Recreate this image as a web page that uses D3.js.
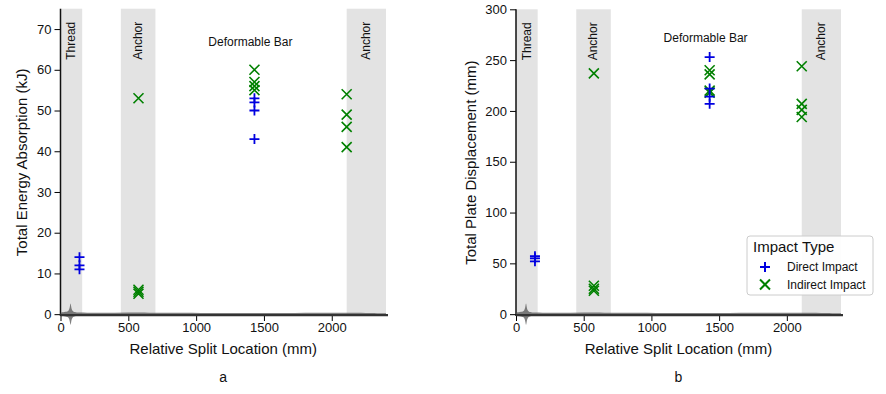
<!DOCTYPE html>
<html><head><meta charset="utf-8">
<script src="https://cdn.jsdelivr.net/npm/d3@7"></script>
<style>
body{margin:0;background:#fff;}
svg{display:block;font-family:"Liberation Sans",Arial,sans-serif;}
</style></head>
<body><svg id="c" width="886" height="394"></svg>
<script>
// ---- data ----
const regions = [
  {name:"Thread", x0:0, x1:160, label:80},
  {name:"Anchor", x0:445, x1:700, label:572},
  {name:"Anchor", x0:2110, x1:2400, label:2250}
];
const directX = [140,140,140,1430,1430,1430,1430];
const indirectX = [575,575,575,575,1430,1430,1430,1430,2110,2110,2110,2110];
const energyDirect = [14,12,11,43,50,52,53];
const energyIndirect = [53,6,5.5,5,60,57,56,55,54,49,46,41];
const dispDirect = [57,55,52,253,222,214,207];
const dispIndirect = [237,28,25,23,240,236,220,218,244,207,201,194];
const energyTicks = [0,10,20,30,40,50,60,70];
const dispTicks = [0,50,100,150,200,250,300];
const xTicks = [0,500,1000,1500,2000];
// smear artifact along the zero line: [mm, half-thickness px]
const smear = [[0,1.5],[40,2.5],[62,3],[70,8],[74,12],[78,8],[86,2.5],[120,1.6],[300,1.3],[500,2],[700,1.4],[1500,1.1],[2200,1.8],[2400,0.8]];

const svg = d3.select("#c");
const blue = "#0000e0", green = "#008000";

function panel(cfg){
  const g = svg.append("g");
  const x = d3.scaleLinear().domain([0,2400]).range([cfg.left, cfg.right]);
  const y = d3.scaleLinear().domain(cfg.ydom).range([cfg.bottom, cfg.top]);
  // bands
  g.selectAll("rect.band").data(regions).join("rect")
    .attr("x", d=>x(d.x0)).attr("width", d=>x(d.x1)-x(d.x0))
    .attr("y", cfg.top).attr("height", cfg.bottom-cfg.top).attr("fill","#e3e3e3");
  g.selectAll("text.band").data(regions).join("text")
    .attr("transform", d=>`translate(${x(d.label)+4},${cfg.top+13}) rotate(-90)`)
    .attr("text-anchor","end").attr("font-size",12).attr("fill","#111").text(d=>d.name);
  g.append("text").attr("x", x(1400)).attr("y", cfg.top+cfg.dbOff).attr("text-anchor","middle")
    .attr("font-size",12).attr("fill","#111").text("Deformable Bar");
  // axes
  const ya = d3.axisLeft(y).tickValues(cfg.yticks).tickSize(6).tickPadding(3).tickFormat(d3.format("d"));
  const yg = g.append("g").attr("transform",`translate(${cfg.left},0)`).call(ya);
  yg.select(".domain").remove();
  yg.selectAll("text").attr("font-size",13).attr("fill","#111");
  g.append("line").attr("x1",cfg.left).attr("x2",cfg.left).attr("y1",cfg.top).attr("y2",cfg.bottom)
    .attr("stroke","#111").attr("stroke-width",1.5);
  const xa = d3.axisBottom(x).tickValues(xTicks).tickSize(5).tickPadding(2).tickFormat(d3.format("d"));
  const xg = g.append("g").attr("transform",`translate(0,${cfg.bottom})`).call(xa);
  xg.select(".domain").remove();
  xg.selectAll("text").attr("font-size",13).attr("fill","#111");
  // smear artifact
  const area = d3.area().x(d=>x(d[0])).y0(d=>y(0)+d[1]).y1(d=>y(0)-d[1]).curve(d3.curveBasis);
  g.append("path").datum(smear).attr("d",area).attr("fill","#555").attr("opacity",0.75);
  g.append("line").attr("x1",cfg.left).attr("x2",cfg.right+2).attr("y1",y(0)+1).attr("y2",y(0)+1)
    .attr("stroke","#333").attr("stroke-width",2.2);
  // labels
  g.append("text").attr("x",(cfg.left+cfg.right)/2).attr("y",354).attr("text-anchor","middle")
    .attr("font-size",15).attr("fill","#111").text("Relative Split Location (mm)");
  g.append("text").attr("x",(cfg.left+cfg.right)/2).attr("y",382).attr("text-anchor","middle")
    .attr("font-size",14).attr("fill","#111").text(cfg.sub);
  g.append("text").attr("transform",`translate(${cfg.ylabX},${(cfg.top+cfg.bottom)/2}) rotate(-90)`)
    .attr("text-anchor","middle").attr("font-size",15).attr("fill","#111").text(cfg.ylabel);
  // markers
  const s = 5;
  const plus = `M${-s},0H${s}M0,${-s}V${s}`;
  const cross = `M${-s},${-s}L${s},${s}M${-s},${s}L${s},${-s}`;
  g.selectAll("path.ind").data(cfg.ind).join("path")
    .attr("transform",(d,i)=>`translate(${x(indirectX[i])},${y(d)})`)
    .attr("d",cross).attr("stroke",green).attr("stroke-width",1.6).attr("fill","none");
  g.selectAll("path.dir").data(cfg.dir).join("path")
    .attr("transform",(d,i)=>`translate(${x(directX[i])},${y(d)})`)
    .attr("d",plus).attr("stroke",blue).attr("stroke-width",1.8).attr("fill","none");
  return {g,x,y,plus,cross};
}

panel({left:60.5,right:386,top:8.7,bottom:316,ydom:[-0.45,75],yticks:energyTicks,
  dir:energyDirect,ind:energyIndirect,sub:"a",ylabX:27,ylabel:"Total Energy Absorption (kJ)",dbOff:37});
const p2 = panel({left:516,right:841,top:9.3,bottom:316,ydom:[-1.8,300],yticks:dispTicks,
  dir:dispDirect,ind:dispIndirect,sub:"b",ylabX:476,ylabel:"Total Plate Displacement (mm)",dbOff:33});

// legend
const lg = svg.append("g").attr("transform","translate(747,236)");
lg.append("rect").attr("width",126).attr("height",59).attr("rx",3)
  .attr("fill","#fff").attr("fill-opacity",0.9).attr("stroke","#ccc");
lg.append("text").attr("x",6).attr("y",16).attr("font-size",15).attr("fill","#111").text("Impact Type");
const items = [{t:"Direct Impact",c:blue,m:p2.plus},{t:"Indirect Impact",c:green,m:p2.cross}];
items.forEach((it,i)=>{
  lg.append("path").attr("transform",`translate(18,${31+i*17.5})`).attr("d",it.m)
    .attr("stroke",it.c).attr("stroke-width",2).attr("fill","none");
  lg.append("text").attr("x",40).attr("y",35+i*17.5).attr("font-size",12).attr("fill","#111").text(it.t);
});
</script></body></html>
